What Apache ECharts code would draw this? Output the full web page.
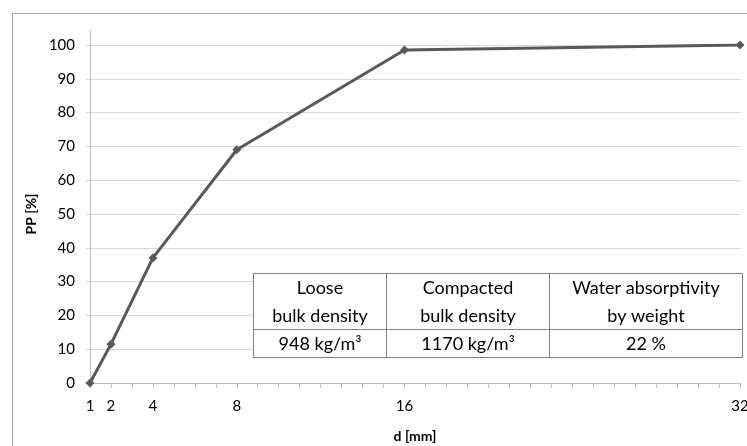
<!DOCTYPE html>
<html><head><meta charset="utf-8">
<script src="https://cdn.jsdelivr.net/npm/echarts@6/dist/echarts.min.js"></script>
<style>html,body{margin:0;padding:0;background:#fff}#c{width:747px;height:446px}</style>
</head><body><div id="c"></div>
<script>
const sizes = [1, 2, 4, 8, 16, 32];
const passing = [0, 11.5, 37, 69, 98.5, 100];
const xLabels = [1, 2, 4, 8, 16, 32];
const tableHeaders = ["Loose\nbulk density", "Compacted\nbulk density", "Water absorptivity\nby weight"];
const tableValues = ["948 kg/m³", "1170 kg/m³", "22 %"];

const FONT = 'Lato, "Open Sans", sans-serif';
const chart = echarts.init(document.getElementById('c'), null, {renderer: 'canvas'});

// table graphic (annotation)
const tX = [253.5, 386.5, 549.5, 742.5];
const tY = [273.5, 329.5, 357.5];
const tableEls = [];
tableEls.push({type: 'rect', z: 100, shape: {x: tX[0], y: tY[0], width: tX[3] - tX[0], height: tY[2] - tY[0]},
  style: {fill: '#fff', stroke: '#808080', lineWidth: 1}});
for (let i = 1; i < 3; i++) {
  tableEls.push({type: 'line', z: 101, shape: {x1: tX[i], y1: tY[0], x2: tX[i], y2: tY[2]}, style: {stroke: '#808080', lineWidth: 1}});
}
tableEls.push({type: 'line', z: 101, shape: {x1: tX[0], y1: tY[1], x2: tX[3], y2: tY[1]}, style: {stroke: '#808080', lineWidth: 1}});
for (let i = 0; i < 3; i++) {
  const cx = (tX[i] + tX[i + 1]) / 2;
  tableEls.push({type: 'text', z: 102, x: cx, y: (tY[0] + tY[1]) / 2 + 1,
    style: {text: tableHeaders[i], font: '18px ' + FONT, fill: '#000', align: 'center', verticalAlign: 'middle', lineHeight: 28}});
  tableEls.push({type: 'text', z: 102, x: cx, y: (tY[1] + tY[2]) / 2 + 1,
    style: {text: tableValues[i], font: '18px ' + FONT, fill: '#000', align: 'center', verticalAlign: 'middle'}});
}

chart.setOption({
  animation: false,
  backgroundColor: '#fff',
  grid: {left: 90, right: 7, top: 45, bottom: 63, outerBoundsMode: 'none', containLabel: false},
  xAxis: {
    type: 'value', min: 1, max: 32, interval: 1,
    name: 'd [mm]', nameLocation: 'middle', nameGap: 46,
    nameTextStyle: {fontFamily: FONT, fontWeight: 'bold', fontSize: 14, color: '#000'},
    axisLine: {show: true, lineStyle: {color: '#bfbfbf', width: 1}},
    axisTick: {show: true, length: 5, lineStyle: {color: '#bfbfbf'}},
    axisLabel: {fontFamily: FONT, fontSize: 15, color: '#000', margin: 16,
      formatter: v => xLabels.indexOf(v) >= 0 ? String(v) : ''},
    splitLine: {show: false}
  },
  yAxis: {
    type: 'value', min: 0, max: 100, interval: 10,
    name: 'PP [%]', nameLocation: 'middle', nameGap: 49, nameRotate: 90,
    nameTextStyle: {fontFamily: FONT, fontWeight: 'bold', fontSize: 14, color: '#000'},
    axisLine: {show: true, lineStyle: {color: '#bfbfbf', width: 1}},
    axisTick: {show: true, length: 5, lineStyle: {color: '#d9d9d9'}},
    axisLabel: {fontFamily: FONT, fontSize: 15, color: '#000', margin: 15},
    splitLine: {show: true, lineStyle: {color: '#d9d9d9', width: 1}}
  },
  series: [{
    type: 'line',
    data: sizes.map((s, i) => [s, passing[i]]),
    symbol: 'diamond', symbolSize: 9, showSymbol: true,
    lineStyle: {color: '#595959', width: 3},
    itemStyle: {color: '#595959'},
    z: 3
  }],
  graphic: [
    {type: 'rect', z: -1, shape: {x: 12.5, y: 13.5, width: 760, height: 460}, style: {fill: 'none', stroke: '#a6a6a6', lineWidth: 1}},
    {type: 'line', shape: {x1: 90.5, y1: 30, x2: 90.5, y2: 45}, style: {stroke: '#bfbfbf', lineWidth: 1}},
    {type: 'group', children: tableEls}
  ]
});
</script></body></html>
